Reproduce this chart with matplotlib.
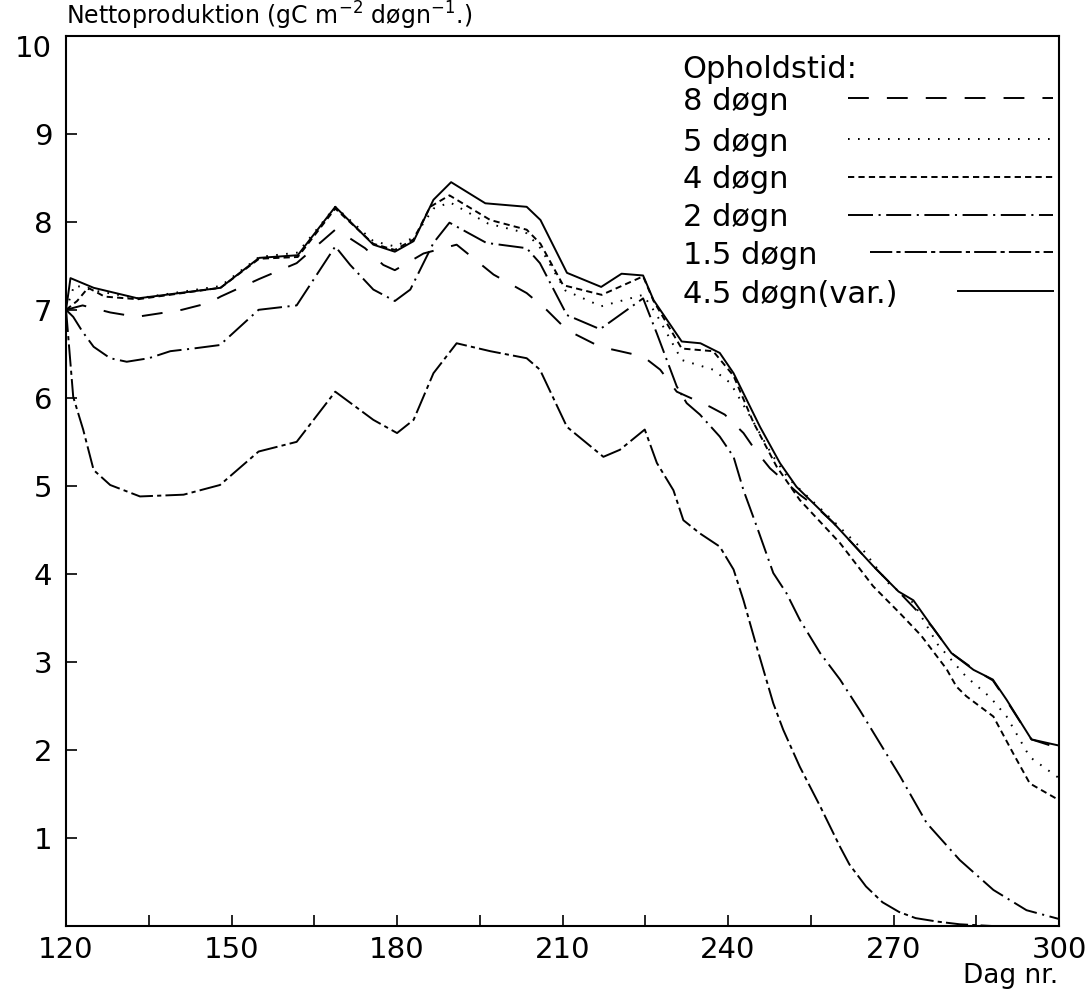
import matplotlib
matplotlib.use("Agg")
import matplotlib.pyplot as plt

plt.rcParams['font.family'] = ['DejaVu Sans']
plt.rcParams['lines.scale_dashes'] = False

# Opholdstid 8 døgn
day_8 = [120, 123, 128, 132.8, 137, 141, 146, 148, 155, 161.8, 168.8, 171.5, 174.2, 177.5, 179.6,
         184.8, 190.8, 197.5, 203.5, 207.1, 210.8, 216.8, 220.4, 224.6, 227.7, 230.7, 236.7, 239.4,
         242.8, 244.9, 247.6, 250.3, 253, 256, 259.1, 266.3, 270.9, 277, 280.5, 284.5, 288, 290.5, 295, 300]
val_8 = [7.0, 7.05, 6.97, 6.92, 6.96, 7.0, 7.08, 7.15, 7.35, 7.53, 7.91, 7.81, 7.7, 7.51, 7.45,
         7.64, 7.74, 7.40, 7.19, 7.0, 6.77, 6.58, 6.53, 6.47, 6.32, 6.07, 5.9, 5.81,
         5.60, 5.41, 5.20, 5.05, 4.9, 4.76, 4.58, 4.09, 3.80, 3.4, 3.1, 2.92, 2.79, 2.56, 2.12, 2.02]

# 5 døgn
day_5 = [120, 121.5, 125, 133, 148, 155, 162, 168.8, 175.7, 179.6, 183, 186.6, 189.6, 196.5, 203.5,
         206, 210.5, 217, 224.6, 227, 231.6, 237.3, 240.4, 244, 248, 251, 257.3, 264.5, 269, 273.6,
         278, 283.2, 287.5, 290.5, 294.7, 300]
val_5 = [7.0, 7.28, 7.22, 7.13, 7.27, 7.6, 7.65, 8.17, 7.78, 7.72, 7.82, 8.15, 8.22, 7.98, 7.87,
         7.7, 7.22, 7.04, 7.17, 6.95, 6.43, 6.32, 6.17, 5.79, 5.35, 5.08, 4.71, 4.27, 3.9, 3.67,
         3.2, 2.83, 2.6, 2.38, 1.92, 1.68]

# 4 døgn
day_4 = [120, 122, 124, 127, 133, 148, 155, 162, 168.8, 175.7, 179.6, 183, 186, 189.5, 196.9,
         203.5, 206, 210.1, 217.1, 224.6, 226.5, 231.6, 237.3, 241, 244.6, 248.8, 253, 260.3,
         266.3, 271.2, 275, 279.6, 281.4, 283.2, 288.1, 291.7, 294.7, 300]
val_4 = [7.0, 7.1, 7.25, 7.15, 7.12, 7.25, 7.58, 7.6, 8.15, 7.75, 7.68, 7.8, 8.17, 8.3, 8.02,
         7.91, 7.75, 7.28, 7.17, 7.38, 7.1, 6.56, 6.53, 6.25, 5.72, 5.22, 4.84, 4.35,
         3.86, 3.55, 3.3, 2.92, 2.72, 2.61, 2.38, 1.96, 1.62, 1.43]

# 2 døgn
day_2 = [120, 121.3, 123, 125, 128, 131, 135, 138.9, 143, 147.9, 154.9, 161.8, 168.8, 171.5, 175.7,
         179.6, 182.4, 186.6, 189.5, 196.2, 203.5, 205.9, 210.8, 216.8, 224.6, 227.1, 230.7, 232.5,
         234.9, 238.5, 241, 242.8, 245.2, 248.2, 250.6, 253, 256.7, 260.3, 263.9, 267.5, 271.2,
         276, 282, 288.1, 294.1, 300]
val_2 = [7.0, 6.92, 6.75, 6.58, 6.45, 6.41, 6.45, 6.53, 6.56, 6.6, 7.0, 7.05, 7.72, 7.51, 7.23,
         7.1, 7.23, 7.76, 7.99, 7.76, 7.7, 7.53, 6.94, 6.78, 7.13, 6.73, 6.13, 5.94,
         5.81, 5.56, 5.33, 4.95, 4.54, 4.01, 3.78, 3.48, 3.10, 2.80, 2.45, 2.08, 1.70,
         1.17, 0.75, 0.41, 0.18, 0.08]

# 1.5 døgn
day_15 = [120, 121.3, 123.1, 125, 128, 133.4, 141.3, 147.9, 154.9, 161.8, 168.8, 175.7, 180, 183,
          186.6, 190.8, 196.9, 203.5, 205.9, 210.8, 217.4, 220.4, 224.9, 227.1, 230.1, 231.9, 234.9,
          238.5, 241, 242.8, 245.2, 248.2, 250, 253, 256.7, 260.3, 262, 265, 268, 271, 274, 278,
          282, 288, 300]
val_15 = [7.0, 6.01, 5.64, 5.18, 5.01, 4.88, 4.90, 5.01, 5.39, 5.50, 6.07, 5.75, 5.60, 5.75,
          6.28, 6.62, 6.53, 6.45, 6.32, 5.67, 5.33, 5.41, 5.64, 5.26, 4.95, 4.61, 4.46,
          4.31, 4.05, 3.70, 3.17, 2.53, 2.23, 1.81, 1.36, 0.90, 0.70, 0.45, 0.27, 0.16, 0.09, 0.05,
          0.02, 0.0, 0.0]

# 4.5 døgn (var.)
day_45 = [120, 120.8, 125, 133, 148, 155, 162, 168.8, 175.7, 179.6, 183, 186.6, 189.8, 196, 203.5,
          206, 210.8, 217, 220.7, 224.6, 226.5, 231.6, 235, 238.5, 241, 245.8, 249.4, 252.4, 259.1,
          266.3, 270.9, 273.6, 277, 280.5, 284.5, 288, 290.5, 295, 300]
val_45 = [7.0, 7.36, 7.25, 7.13, 7.25, 7.59, 7.62, 8.17, 7.74, 7.66, 7.78, 8.25, 8.45, 8.21, 8.17,
          8.02, 7.42, 7.26, 7.41, 7.39, 7.11, 6.64, 6.62, 6.51, 6.28, 5.67, 5.26, 4.99, 4.58,
          4.09, 3.80, 3.70, 3.4, 3.1, 2.91, 2.8, 2.57, 2.12, 2.05]

labels = ['8 døgn', '5 døgn', '4 døgn', '2 døgn', '1.5 døgn', '4.5 døgn(var.)']
styles = [(0, (15, 13)), (0, (1.2, 6)), (0, (4.5, 3)), (0, (18, 4, 1.5, 4)),
          (0, (16, 3, 3, 3)), '-']
series = [(day_8, val_8), (day_5, val_5), (day_4, val_4), (day_2, val_2),
          (day_15, val_15), (day_45, val_45)]

fig = plt.figure(figsize=(10.9, 9.98), dpi=100)
ax = fig.add_axes([0.0606, 0.0721, 0.911, 0.8918])

for (d, v), ls in zip(series, styles):
    ax.plot(d, v, color='black', lw=1.4, linestyle=ls)

ax.set_xlim(120, 300)
ax.set_ylim(0, 10.11)
ax.set_xticks(range(120, 301, 30))
ax.set_xticks(range(135, 300, 30), minor=True)
ax.set_yticks(range(1, 11))
ax.yaxis.get_major_ticks()[-1].tick1line.set_visible(False)
ax.tick_params(axis='both', which='both', direction='in', length=8, width=1.2,
               labelsize=21, top=False, right=False)
ax.tick_params(axis='x', pad=7)
ax.tick_params(axis='y', pad=10)
for s in ax.spines.values():
    s.set_linewidth(1.5)

ax.text(0.0, 1.004, r'Nettoproduktion (gC m$^{-2}$ døgn$^{-1}$.)', transform=ax.transAxes,
        ha='left', va='bottom', fontsize=17)
ax.text(0.999, -0.042, 'Dag nr.', transform=ax.transAxes, ha='right', va='top', fontsize=19)

# legend drawn like the original: text left, line sample to the right
ax.text(0.621, 0.962, 'Opholdstid:', transform=ax.transAxes, ha='left', va='center', fontsize=22)
leg_y = [0.93, 0.884, 0.842, 0.799, 0.757, 0.713]
leg_x0 = [0.787, 0.787, 0.787, 0.787, 0.81, 0.898]
for lab, ls, y, x0 in zip(labels, styles, leg_y, leg_x0):
    ax.text(0.621, y - 0.013, lab, transform=ax.transAxes, ha='left', va='baseline', fontsize=22)
    ax.plot([x0, 0.994], [y, y], transform=ax.transAxes, color='black', lw=1.4, linestyle=ls)

fig.savefig('out.png', dpi=100)
